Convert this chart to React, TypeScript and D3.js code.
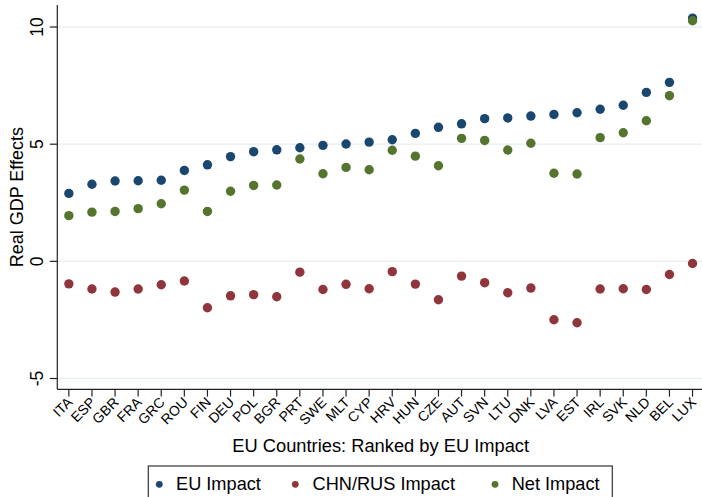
import React from "react";
import * as d3 from "d3";

const countries = ["ITA","ESP","GBR","FRA","GRC","ROU","FIN","DEU","POL","BGR","PRT","SWE","MLT","CYP","HRV","HUN","CZE","AUT","SVN","LTU","DNK","LVA","EST","IRL","SVK","NLD","BEL","LUX"];
const euImpact = [2.90,3.29,3.43,3.44,3.46,3.88,4.12,4.47,4.68,4.76,4.85,4.95,5.01,5.09,5.19,5.46,5.72,5.87,6.09,6.12,6.20,6.27,6.34,6.49,6.66,7.21,7.64,10.38];
const chnRusImpact = [-0.96,-1.18,-1.31,-1.18,-1.00,-0.84,-1.98,-1.47,-1.42,-1.51,-0.46,-1.20,-0.98,-1.17,-0.44,-0.97,-1.64,-0.63,-0.91,-1.34,-1.14,-2.49,-2.62,-1.18,-1.17,-1.20,-0.56,-0.09];
const netImpact = [1.95,2.10,2.13,2.25,2.46,3.04,2.13,2.99,3.24,3.26,4.37,3.74,4.01,3.91,4.74,4.49,4.08,5.25,5.16,4.75,5.04,3.76,3.73,5.28,5.49,6.00,7.07,10.27];
const yTicks = [-5, 0, 5, 10];

const seriesNames = ["EU Impact", "CHN/RUS Impact", "Net Impact"];
const seriesColors = ["#1a476f", "#90353b", "#55752f"];

const FONT = "'Liberation Sans', Arial, Helvetica, sans-serif";

export default function App() {
  const W = 702, H = 497;
  const left = 57.3, right = 704.1, top = 5, bottom = 389.3;
  const x = d3.scaleLinear().domain([0.5, countries.length + 0.5]).range([left, right]);
  const y = d3.scaleLinear().domain([-5.46, 10.94]).range([bottom, top]);
  const series = [euImpact, chnRusImpact, netImpact];

  const legendItems = [
    { marker: 159.3, text: 176 },
    { marker: 295.3, text: 312.5 },
    { marker: 495, text: 511.7 },
  ];

  return (
    <svg width={W} height={H} style={{ position: "absolute", left: 0, top: 0, background: "#fff" }} fontFamily={FONT}>
      <rect x={0} y={0} width={W} height={H} fill="#fff" />
      {yTicks.map((t) => (
        <line key={"g" + t} x1={left} x2={right} y1={y(t)} y2={y(t)} stroke="#e6eef1" strokeWidth={1.3} />
      ))}
      {/* axes */}
      <line x1={left} x2={left} y1={top} y2={bottom} stroke="#222" strokeWidth={1.2} />
      <line x1={left} x2={right} y1={bottom} y2={bottom} stroke="#222" strokeWidth={1.2} />
      {yTicks.map((t) => (
        <g key={"yt" + t}>
          <line x1={left - 7.5} x2={left} y1={y(t)} y2={y(t)} stroke="#222" strokeWidth={1.2} />
          <text transform={`translate(43,${y(t)}) rotate(-90)`} textAnchor="middle" fontSize={17.5} fill="#000">{t}</text>
        </g>
      ))}
      {countries.map((c, i) => (
        <g key={c}>
          <line x1={x(i + 1)} x2={x(i + 1)} y1={bottom} y2={bottom + 7.3} stroke="#222" strokeWidth={1.2} />
          <text transform={`translate(${x(i + 1) + 4.5},${403.2}) rotate(-45)`} textAnchor="end" fontSize={14} fill="#000">{c}</text>
        </g>
      ))}
      <text transform={`translate(22.7,${(top + bottom) / 2}) rotate(-90)`} textAnchor="middle" fontSize={18} fill="#000">Real GDP Effects</text>
      <text x={(left + right) / 2} y={452} textAnchor="middle" fontSize={18.3} fill="#000">EU Countries: Ranked by EU Impact</text>
      {series.map((vals, si) => (
        <g key={"s" + si}>
          {vals.map((v, i) => (
            <circle key={i} cx={x(i + 1)} cy={y(v)} r={4.7} fill={seriesColors[si]} />
          ))}
        </g>
      ))}
      {/* legend */}
      <rect x={148.3} y={466} width={464} height={45} fill="#fff" stroke="#333" strokeWidth={1.2} />
      {seriesNames.map((n, i) => (
        <g key={n}>
          <circle cx={legendItems[i].marker} cy={484.3} r={3.4} fill={seriesColors[i]} />
          <text x={legendItems[i].text} y={490} fontSize={18.2} fill="#000">{n}</text>
        </g>
      ))}
    </svg>
  );
}
